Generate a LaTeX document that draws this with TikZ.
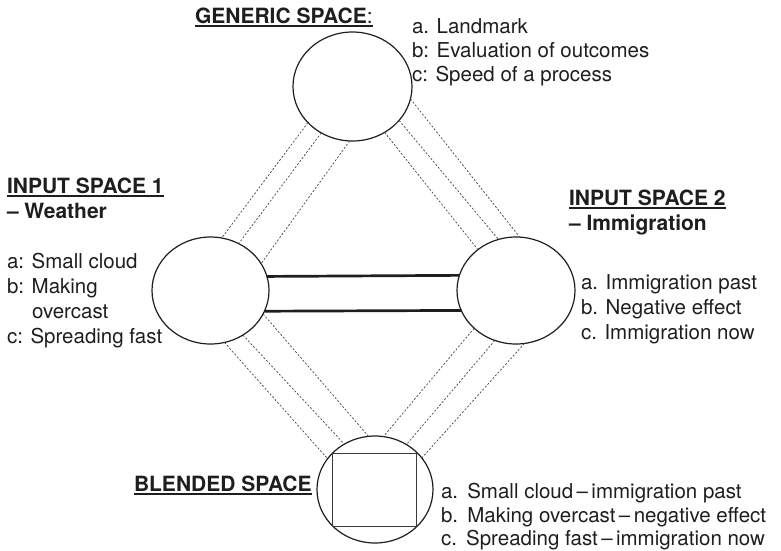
\documentclass[tikz,border=0pt]{standalone}
\usepackage{fontspec}
\setmainfont{TeX Gyre Heros}
\usetikzlibrary{shapes.geometric}
\definecolor{ink}{HTML}{1E1E1E}
\definecolor{dashgray}{HTML}{444444}
\definecolor{sqgray}{HTML}{3A3A3A}
% underlined heading text
\newcommand\ulhead[1]{\setbox0\hbox{#1}\rlap{\rule[-3.6pt]{\wd0}{1.8pt}}\box0}
\begin{document}
\begin{tikzpicture}[x=1pt,y=-1pt,
  space/.style={ellipse,draw=ink,line width=1.2pt,inner sep=0pt,outer sep=0pt},
  link/.style={draw=dashgray,line width=0.7pt,dash pattern=on 2pt off 1.8pt},
  bond/.style={draw=ink,line width=2.7pt},
  txt/.style={anchor=base west,inner sep=0pt,outer sep=0pt,text=ink,
    font=\fontsize{20.5}{24.5}\selectfont},
  head/.style={txt,font=\fontsize{21}{25}\selectfont\bfseries}]
\useasboundingbox (0,0) rectangle (781,550);

% the four mental spaces
\node[space,minimum width=119pt,minimum height=109pt] (gen) at (352.5,86.5) {};
\node[space,minimum width=117pt,minimum height=107pt] (in1) at (210.5,290.5) {};
\node[space,minimum width=118pt,minimum height=107pt] (in2) at (516,290.5) {};
\node[space,minimum width=116pt,minimum height=107pt] (blend) at (375,489.5) {};

% projections between spaces
\draw[link] (gen.219.4) -- (in1.78);
\draw[link] (gen.236.7) -- (in1.59.2);
\draw[link] (gen.267.4) -- (in1.28.1);
\draw[link] (gen.348.7) -- (in2.86.8);
\draw[link] (gen.324.9) -- (in2.109.9);
\draw[link] (gen.305) -- (in2.133.3);
\draw[link] (in1.285.4) -- (blend.147);
\draw[link] (in1.306.6) -- (blend.124.5);
\draw[link] (in1.336.6) -- (blend.97.3);
\draw[link] (in2.222.6) -- (blend.81.6);
\draw[link] (in2.247.8) -- (blend.55.2);
\draw[link] (in2.279) -- (blend.34.6);

% cross-space mapping
\draw[bond] (in1.14.4) -- (in2.165.7);
\draw[bond] (in1.339.2) -- (in2.200.6);

% emergent structure in the blend
\draw[sqgray,line width=1.2pt] (blend.140.5) rectangle (blend.318.9);

% generic space
\node[head] (genhead) at (195,23) {\ulhead{GENERIC SPACE\textmd{:}}};
\node[txt] (ga) at (412,33) {a. Landmark};
\node[txt] (gb) at (412,57) {b: Evaluation of outcomes};
\node[txt] (gc) at (412,81) {c: Speed of a process};

% input space 1
\node[head] (in1head) at (7,193) {\ulhead{INPUT SPACE 1}};
\node[head] (in1sub) at (7,218) {– Weather};
\node[txt] (ia) at (7,268) {a: Small cloud};
\node[txt] (ib) at (7,293) {b: Making};
\node[txt] (ib2) at (32,318) {overcast};
\node[txt] (ic) at (7,343) {c: Spreading fast};

% input space 2
\node[head] (in2head) at (569,205) {\ulhead{INPUT SPACE 2}};
\node[head] (in2sub) at (569,230) {– Immigration};
\node[txt] (ja) at (581,289) {a. Immigration past};
\node[txt] (jb) at (581,314) {b. Negative effect};
\node[txt] (jc) at (581,339) {c. Immigration now};

% blended space
\node[head] (blhead) at (134,491) {\ulhead{BLENDED SPACE}};
\node[txt] (ba) at (441,498) {a.\hspace{0.45em}Small cloud\,–\,immigration past};
\node[txt] (bb) at (441,522) {b.\hspace{0.45em}Making overcast\,–\,negative effect};
\node[txt] (bc) at (441,545.5) {c.\hspace{0.45em}Spreading fast\,–\,immigration now};
\end{tikzpicture}
\end{document}
